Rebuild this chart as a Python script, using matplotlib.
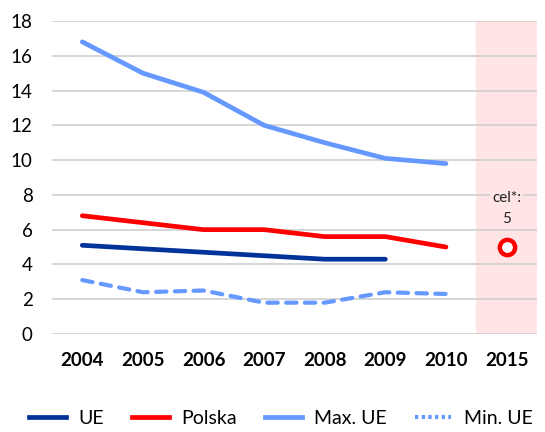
import matplotlib.pyplot as plt
from matplotlib.lines import Line2D

# data
years = ["2004", "2005", "2006", "2007", "2008", "2009", "2010", "2015"]
ue = [5.1, 4.9, 4.7, 4.5, 4.3, 4.3]
polska = [6.8, 6.4, 6.0, 6.0, 5.6, 5.6, 5.0]
max_ue = [16.8, 15.0, 13.9, 12.0, 11.0, 10.1, 9.8]
min_ue = [3.1, 2.4, 2.5, 1.8, 1.8, 2.4, 2.3]
target_year = "2015"
target_value = 5

plt.rcParams['font.family'] = ['Lato', 'DejaVu Sans']

c_ue = "#003399"
c_pl = "#FF0000"
c_max = "#6699FF"

fig = plt.figure(figsize=(5.45, 4.32), dpi=100)
ax = fig.add_axes([0.0954, 0.2269, 0.8896, 0.7245])

x = list(range(len(years)))
ax.set_xlim(-0.5, len(years) - 0.5)
ax.set_ylim(0, 18)

# pink band behind the target year
ti = years.index(target_year)
ax.axvspan(ti - 0.5, ti + 0.5, color="#FFE5E5", zorder=0)

ax.plot(x[:len(ue)], ue, color=c_ue, lw=3.4, solid_capstyle="round", zorder=3)
ax.plot(x[:len(polska)], polska, color=c_pl, lw=3.4, solid_capstyle="round", zorder=3)
ax.plot(x[:len(max_ue)], max_ue, color=c_max, lw=3.4, solid_capstyle="round", zorder=3)
ax.plot(x[:len(min_ue)], min_ue, color=c_max, lw=3.0, linestyle=(0, (2.5, 2.0)),
        dash_capstyle="round", zorder=3)

ax.plot([ti], [target_value], marker="o", ms=11, mfc="white", mec=c_pl, mew=3.2, zorder=4)
ax.text(ti, 7.2, f"cel*:\n{target_value}", ha="center", va="center", fontsize=11,
        linespacing=1.6, color="#222222",
        bbox=dict(facecolor="#FFE5E5", edgecolor="none", pad=1.5), zorder=4)

ax.set_yticks(range(0, 19, 2))
ax.set_xticks(x)
ax.set_xticklabels(years, fontweight="bold", fontsize=13.5)
ax.tick_params(axis="y", labelsize=13.5, length=0, pad=14)
ax.tick_params(axis="x", length=0, pad=13)
ax.grid(axis="y", color="#D0D0D0", lw=1.2, zorder=1)
ax.set_axisbelow(True)
for s in ax.spines.values():
    s.set_visible(False)

handles = [
    Line2D([], [], color=c_ue, lw=3.4),
    Line2D([], [], color=c_pl, lw=3.4),
    Line2D([], [], color=c_max, lw=3.4),
    Line2D([], [], color=c_max, lw=3.0, linestyle=(0, (0.8, 0.8))),
]
fig.legend(handles, ["UE", "Polska", "Max. UE", "Min. UE"], loc="center",
           bbox_to_anchor=(0.515, 0.032), ncol=4, frameon=False, fontsize=14,
           handlelength=1.9, columnspacing=1.45, handletextpad=0.62)

fig.savefig("out.png", dpi=100)
